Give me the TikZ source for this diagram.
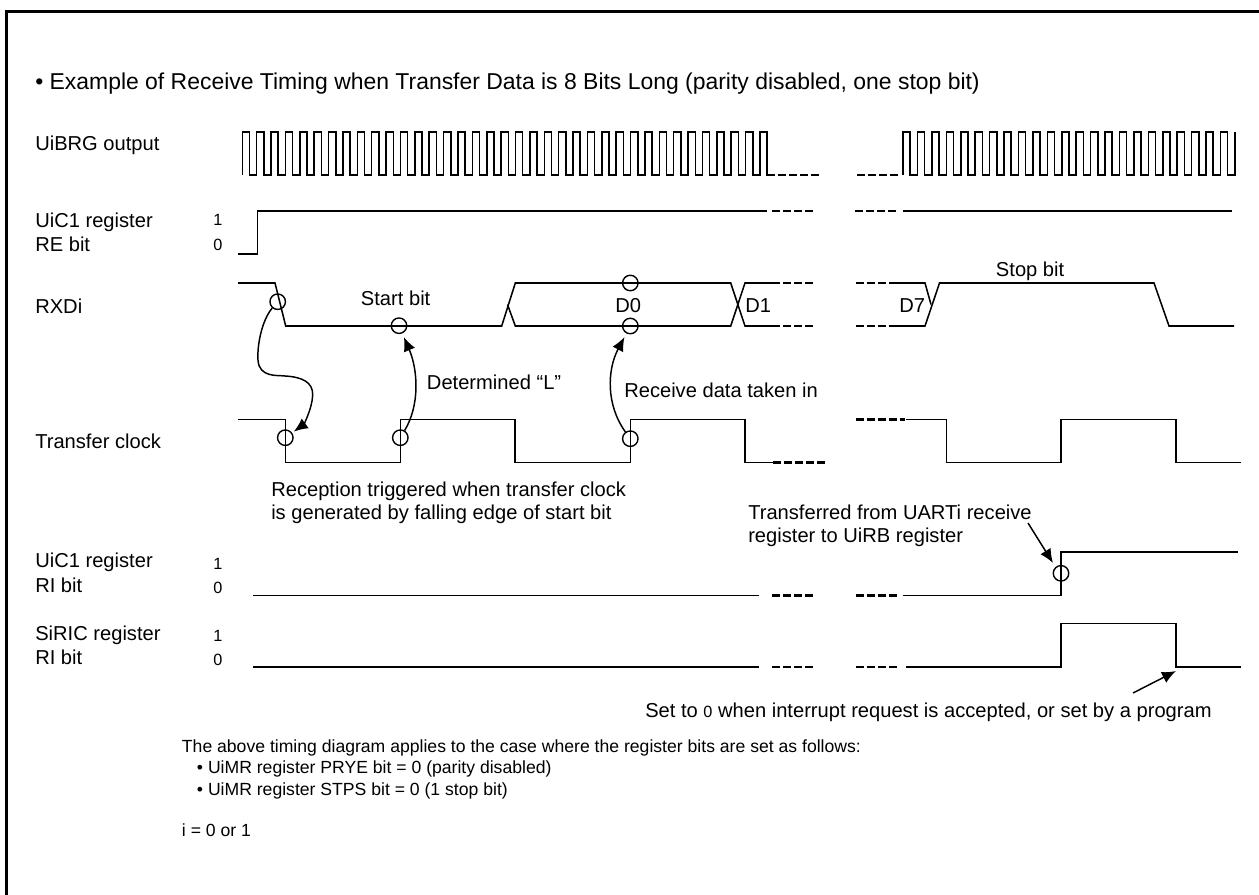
\documentclass[tikz,border=0pt]{standalone}
\usepackage{fontspec}
\setmainfont{Liberation Sans}
\usetikzlibrary{arrows.meta}
\tikzset{
  wave/.style={line width=1.15pt,line join=miter},
  brk/.style={line width=1.8pt,dash pattern=on 6pt off 2.25pt},
  frame/.style={line width=2.4pt},
  txt/.style={anchor=base west,inner sep=0pt,font=\fontsize{15.1}{18}\selectfont},
  big/.style={anchor=base west,inner sep=0pt,font=\fontsize{17.2}{20}\selectfont},
  sm/.style={anchor=base west,inner sep=0pt,font=\fontsize{12.2}{14}\selectfont},
  note/.style={anchor=base west,inner sep=0pt,font=\fontsize{13.2}{16}\selectfont},
  ring/.style={circle,draw,line width=1.05pt,minimum size=11.6pt,inner sep=0pt},
  arr/.style={line width=1.1pt,-{Latex[length=10.5pt,width=9pt]}}
}
\begin{document}
\begin{tikzpicture}[x=0.75pt,y=-0.75pt]
\useasboundingbox (0,0) rectangle (1259,895);
\fill[white] (0,0) rectangle (1259,895);
% frame
\draw[frame] (6.7,895) -- (6.7,11.3) -- (1259,11.3);
% texts
\node[big] (title) at (35,90) {• Example of Receive Timing when Transfer Data is 8 Bits Long (parity disabled, one stop bit)};
\node[txt] (brg) at (35,151) {UiBRG output};
\node[txt] (c1a) at (35,227) {UiC1 register};
\node[txt] (c1b) at (35,251) {RE bit};
\node[sm] (c11) at (213,225) {1};
\node[sm] (c10) at (213,250) {0};
\node[txt] (rxd) at (35,313) {RXDi};
\node[txt] (tck) at (35,448) {Transfer clock};
\node[txt] (r1a) at (35,567) {UiC1 register};
\node[txt] (r1b) at (35,592) {RI bit};
\node[sm] (r11) at (213,569) {1};
\node[sm] (r10) at (213,593) {0};
\node[txt] (s1a) at (35,640) {SiRIC register};
\node[txt] (s1b) at (35,664) {RI bit};
\node[sm] (s11) at (213,641) {1};
\node[sm] (s10) at (213,665) {0};
\node[txt] (sb) at (360.7,305) {Start bit};
\node[txt] (det) at (426.7,389) {Determined “L”};
\node[txt] (rdt) at (624,397) {Receive data taken in};
\node[txt] (d0) at (615,312) {D0};
\node[txt] (d1) at (745,312) {D1};
\node[txt] (d7) at (899,312) {D7};
\node[txt] (stp) at (995.7,276) {Stop bit};
\node[txt] (rec1) at (271,496) {Reception triggered when transfer clock};
\node[txt] (rec2) at (271,519) {is generated by falling edge of start bit};
\node[txt] (tr1) at (748,519) {Transferred from UARTi receive};
\node[txt] (tr2) at (748,542) {register to UiRB register};
\node[txt] (set0) at (645,717) {Set to {\fontsize{12.2}{14}\selectfont 0} when interrupt request is accepted, or set by a program};
\node[note] (n1) at (181.7,752) {The above timing diagram applies to the case where the register bits are set as follows:};
\node[note] (n2) at (196.7,773) {• UiMR register PRYE bit = 0 (parity disabled)};
\node[note] (n3) at (196.7,795) {• UiMR register STPS bit = 0 (1 stop bit)};
\node[note] (n4) at (181.7,836) {i = 0 or 1};
% UiBRG output
\draw[wave] (242.3,175) -- (242.3,132)
  \foreach \i in {1,...,36}{ -- ++(7.19,0) -- ++(0,43) -- ++(7.19,0) -- ++(0,-43)}
  -- ++(7.19,0) -- ++(0,43) -- (775,175);
\draw[brk] (778,175) -- (820,175);
\draw[brk] (857,175) -- (899,175);
\draw[wave] (903,175) -- (903,132)
  \foreach \i in {1,...,23}{ -- ++(7.215,0) -- ++(0,43) -- ++(7.215,0) -- ++(0,-43)};
% UiC1 RE
\draw[wave] (238,254) -- (257.7,254) -- (257.7,211) -- (767,211);
\draw[brk] (772,211) -- (814,211);
\draw[brk] (855,211) -- (897,211);
\draw[wave] (903,211) -- (1232,211);
% RXDi
\draw[wave] (238,283) -- (275,283) -- (285.7,326) -- (501.7,326) -- (515.3,283) -- (730.7,283) -- (745,326) -- (772,326);
\draw[wave] (507.5,304.5) -- (515.3,326) -- (730.7,326) -- (745,283) -- (772,283);
\draw[brk] (772,283) -- (814,283);
\draw[brk] (772,326) -- (814,326);
\draw[brk] (855.5,283) -- (897,283);
\draw[brk] (855.5,326) -- (897,326);
\draw[wave] (897,283) -- (925,283) -- (931,304.5);
\draw[wave] (897,326) -- (925,326) -- (939.5,283) -- (1154,283) -- (1169,326) -- (1234,326);
% Transfer clock
\draw[wave] (238,419.3) -- (285.7,419.3) -- (285.7,462.3) -- (400.3,462.3) -- (400.3,419.3) -- (515,419.3) -- (515,462.3) -- (630.3,462.3) -- (630.3,419.3) -- (745,419.3) -- (745,462.3) -- (773,462.3);
\draw[brk] (773,462.3) -- (825,462.3);
\draw[brk] (855.5,419.3) -- (905,419.3);
\draw[wave] (906,419.3) -- (946.7,419.3) -- (946.7,462.3) -- (1061,462.3) -- (1061,419.3) -- (1176,419.3) -- (1176,462.3) -- (1241,462.3);
% UiC1 RI
\draw[wave] (253,595.3) -- (759,595.3);
\draw[brk] (772,595.3) -- (814,595.3);
\draw[brk] (855.5,595.3) -- (897,595.3);
\draw[wave] (903,595.3) -- (1061,595.3) -- (1061,552) -- (1238,552);
% SiRIC RI
\draw[wave] (253,667) -- (759,667);
\draw[brk] (772,667) -- (814,667);
\draw[brk] (855.5,667) -- (897,667);
\draw[wave] (906,667) -- (1061,667) -- (1061,623.7) -- (1176,623.7) -- (1176,667) -- (1241,667);
% rings
\node[ring] (k1) at (277.7,301.7) {};
\node[ring] (k2) at (399,325.7) {};
\node[ring] (k3) at (630.3,283) {};
\node[ring] (k4) at (630.3,326) {};
\node[ring] (t1) at (285.3,437.7) {};
\node[ring] (t2) at (400.3,437.7) {};
\node[ring] (t3) at (630.3,438.7) {};
\node[ring] (ri) at (1061,573.3) {};
% arrows
\coordinate (tra) at (1028,523);
\coordinate (trb) at (1053,563);
\coordinate (seta) at (1133,693);
\coordinate (setb) at (1176,671);
\draw[arr,shorten >=1.5pt] (k1) .. controls (262,320) and (257,345) .. (258,360) .. controls (259,378) and (278,375) .. (285,376) .. controls (302,377) and (313,382) .. (312.7,395) .. controls (312,410) and (303,425) .. (t1);
\draw[arr,shorten >=3pt] (t2) .. controls (420,405) and (418,370) .. (k2);
\draw[arr,shorten >=3pt] (t3) .. controls (606,405) and (607,370) .. (k4);
\draw[arr] (tra) -- (trb);
\draw[arr] (seta) -- (setb);
\end{tikzpicture}
\end{document}
